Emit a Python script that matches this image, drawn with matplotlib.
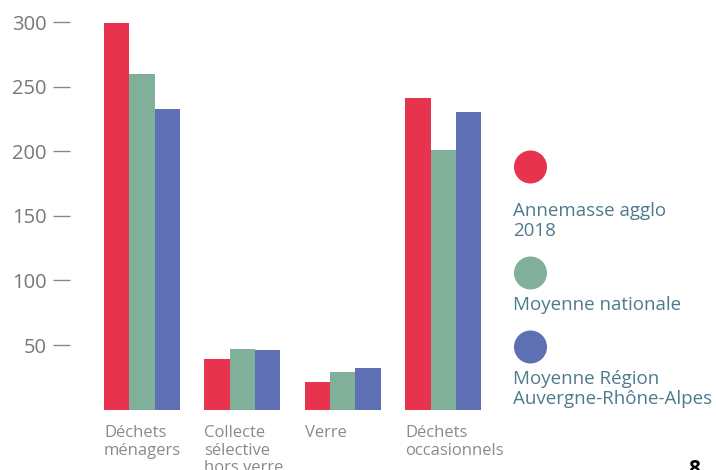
import numpy as np
import matplotlib
matplotlib.use("Agg")
import matplotlib.pyplot as plt

# ==== Daten (kg/hab/an) ====
categories = ["Déchets\nménagers", "Collecte\nsélective\nhors verre", "Verre", "Déchets\noccasionnels"]
annemasse = [299, 39, 21, 241]
nationale = [260, 47, 29, 201]
region = [233, 46, 32, 230]
series_labels = ["Annemasse agglo\n2018", "Moyenne nationale", "Moyenne Région\nAuvergne-Rhône-Alpes"]
yticks = [50, 100, 150, 200, 250, 300]

colors = ["#e8334e", "#80b09a", "#5f6fb4"]
plt.rcParams["font.family"] = ["Open Sans", "DejaVu Sans"]

W, H = 716, 470
fig = plt.figure(figsize=(W / 100, H / 100), dpi=100)

# Achse in Pixelkoordinaten platzieren
ax_left, ax_right = 70, 500
y_zero, y_top = 409.6, 9.1
ax = fig.add_axes([ax_left / W, (H - y_zero) / H, (ax_right - ax_left) / W, (y_zero - y_top) / H])

x = np.arange(len(categories)) * 3.97
for i, vals in enumerate([annemasse, nationale, region]):
    ax.bar(x + (i - 1), vals, width=1.0, color=colors[i], linewidth=0)

bar_px = 25.3
ax.set_xlim(x[0] - 1.5 - 34 / bar_px, x[0] - 1.5 - 34 / bar_px + (ax_right - ax_left) / bar_px)
ax.set_ylim(0, 310)
ax.set_yticks(yticks)
ax.set_yticklabels([str(t) for t in yticks], fontsize=14.5, color="#777777")
ax.tick_params(axis="y", direction="out", length=12, width=1, color="#888888", pad=5)
ax.set_xticks([])
for s in ax.spines.values():
    s.set_visible(False)

# Kategorien unter den Balken, linksbündig
for xi, cat in zip(x, categories):
    ax.annotate(cat, xy=(xi - 1.5, 0), xycoords="data", xytext=(0, -11), textcoords="offset points",
                ha="left", va="top", fontsize=12, color="#8a8a8a", linespacing=1.15,
                annotation_clip=False)

# Legende mit Kreisen
circle_y = [167, 273, 347]
text_y = [202, 296, 370]
for cy, ty, col, lab in zip(circle_y, text_y, colors, series_labels):
    fig.patches.append(matplotlib.patches.Circle((530.5, H - cy), 16.5, transform=None,
                                                 color=col, linewidth=0))
    fig.text(513 / W, 1 - ty / H, lab, ha="left", va="top", fontsize=13.5,
             color="#4d7b8c", linespacing=1.15)

# Seitenzahl unten rechts
fig.text(694 / W, 1 - 459 / H, "8", ha="center", va="top", fontsize=15, fontweight="bold", color="black")

fig.savefig("out.png", dpi=100)
